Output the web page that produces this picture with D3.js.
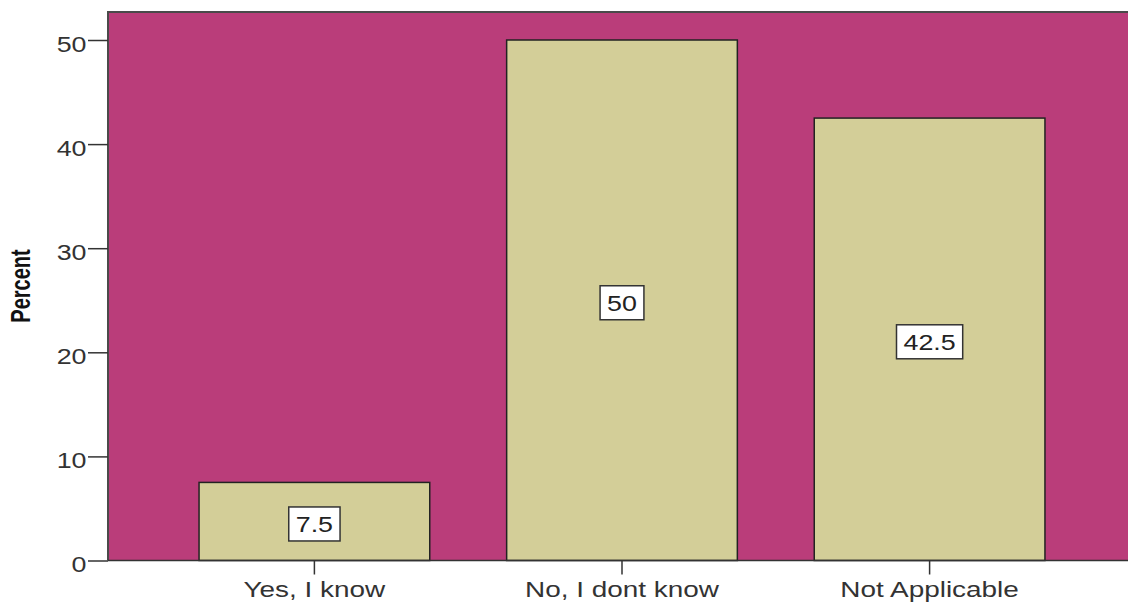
<!DOCTYPE html>
<html>
<head>
<meta charset="utf-8">
<script src="https://cdn.jsdelivr.net/npm/d3@7"></script>
<style>
  html, body { margin: 0; padding: 0; background: #fff; }
  svg { display: block; }
  text { font-family: "Liberation Sans", Arial, sans-serif; }
</style>
</head>
<body>
<svg id="chart" width="1128" height="603"></svg>
<script>
// Responses to the question, as percentages
const categories = ["Yes, I know", "No, I dont know", "Not Applicable"];
const percents = [7.5, 50, 42.5];
const yTicks = [0, 10, 20, 30, 40, 50];
const yTitle = "Percent";

const W = 1128, H = 603;
const plot = { left: 108, top: 12, right: 1136, bottom: 560.5 };
const stretch = 1.22;  // wide glyph rendering of the labels
const stretchX = 1.27; // category labels are a touch wider

const svg = d3.select("#chart");

const x = d3.scaleBand()
  .domain(categories)
  .range([plot.left, plot.right])
  .paddingInner(0.25)
  .paddingOuter(0.296);

const y = d3.scaleLinear()
  .domain([0, 52.69])
  .range([plot.bottom, plot.top]);

// plot background
svg.append("rect")
  .attr("x", plot.left).attr("y", plot.top)
  .attr("width", plot.right - plot.left)
  .attr("height", plot.bottom - plot.top)
  .attr("fill", "#BA3D7A");

// bars
svg.append("g").selectAll("rect")
  .data(categories)
  .join("rect")
  .attr("x", d => x(d))
  .attr("y", (d, i) => y(percents[i]))
  .attr("width", x.bandwidth())
  .attr("height", (d, i) => y(0) - y(percents[i]))
  .attr("fill", "#D3CE98")
  .attr("stroke", "#222")
  .attr("stroke-width", 1.5);

// plot frame (left, top, bottom edges)
svg.append("path")
  .attr("d", `M${plot.left},${plot.bottom}V${plot.top}H${plot.right}`)
  .attr("fill", "none").attr("stroke", "#4a4a4a").attr("stroke-width", 2);
svg.append("line")
  .attr("x1", plot.left).attr("x2", plot.right)
  .attr("y1", plot.bottom).attr("y2", plot.bottom)
  .attr("stroke", "#333").attr("stroke-width", 1.5);

// y axis
const yAxis = svg.append("g")
  .attr("transform", `translate(${plot.left},0)`)
  .call(d3.axisLeft(y).tickValues(yTicks).tickSize(20).tickFormat(d3.format("d")));
yAxis.select(".domain").remove();
yAxis.selectAll(".tick line").attr("stroke", "#333").attr("stroke-width", 1.5);
yAxis.selectAll(".tick text")
  .attr("x", null).attr("dy", null)
  .attr("text-anchor", "end")
  .attr("font-size", 22)
  .attr("fill", "#333")
  .attr("transform", `translate(-21.5,11) scale(${stretch},1)`);

// x axis
const xAxis = svg.append("g")
  .attr("transform", `translate(0,${plot.bottom})`)
  .call(d3.axisBottom(x).tickSize(14).tickSizeOuter(0));
xAxis.select(".domain").remove();
xAxis.selectAll(".tick line").attr("stroke", "#333").attr("stroke-width", 1.5);
xAxis.selectAll(".tick text")
  .attr("y", null).attr("dy", null)
  .attr("text-anchor", "middle")
  .attr("font-size", 22)
  .attr("fill", "#333")
  .attr("transform", `translate(0,36) scale(${stretchX},1)`);

// y title
svg.append("text")
  .attr("transform", `translate(29.5,286) scale(1.35,1) rotate(-90)`)
  .attr("text-anchor", "middle")
  .attr("font-size", 20)
  .attr("font-weight", "bold")
  .attr("fill", "#111")
  .text(yTitle);

// value labels in boxes at mid-height of each bar
const labels = svg.append("g").selectAll("g")
  .data(categories)
  .join("g")
  .attr("transform", (d, i) => `translate(${x(d) + x.bandwidth() / 2},${y(percents[i] / 2) + 2.5})`);

labels.each(function (d, i) {
  const g = d3.select(this);
  const box = g.append("rect");
  const t = g.append("text")
    .attr("text-anchor", "middle")
    .attr("font-size", 22)
    .attr("fill", "#222")
    .attr("transform", `translate(0,8) scale(${stretch},1)`)
    .text(d3.format("")(percents[i]));
  const w = t.node().getComputedTextLength() * stretch + 14;
  box.attr("x", -w / 2).attr("y", -17)
    .attr("width", w).attr("height", 34)
    .attr("fill", "#fff")
    .attr("stroke", "#333").attr("stroke-width", 1.5);
});
</script>
</body>
</html>
